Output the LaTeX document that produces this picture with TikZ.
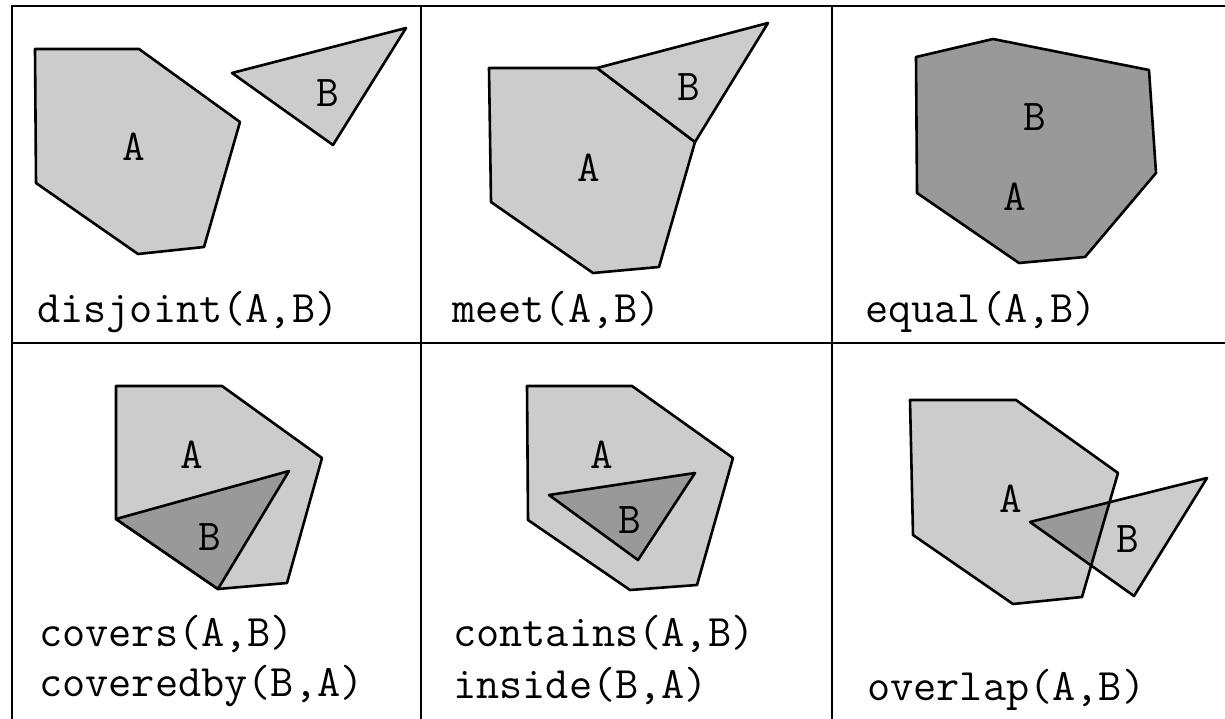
\documentclass[tikz,border=0pt]{standalone}
\usepackage{fontspec}
\definecolor{reglight}{gray}{0.8}
\definecolor{regdark}{gray}{0.6}
\begin{document}
\begin{tikzpicture}[x=1pt,y=-1pt,
  frame/.style={line width=2.6pt},
  region/.style={draw=black,line width=2.6pt,line join=round},
  light/.style={region,fill=reglight},
  dark/.style={region,fill=regdark},
  lbl/.style={font=\fontsize{44}{50}\selectfont\ttfamily,inner sep=0pt},
  captext/.style={font=\fontsize{45}{50}\selectfont\ttfamily,inner sep=0pt,anchor=base west}]
\useasboundingbox (0,0) rectangle (1225,719);
\fill[white] (0,0) rectangle (1225,719);

% grid
\draw[frame] (11,6) -- (1225,6);
\draw[frame] (12,6) -- (12,719);
\draw[frame] (421,6) -- (421,719);
\draw[frame] (832,6) -- (832,719);
\draw[frame] (12,343) -- (1225,343);

% ---- disjoint
\draw[light] (35,49) -- (139,49) -- (240,122) -- (204,247) -- (138,254) -- (36,183) -- cycle;
\draw[light] (232,73) -- (406,28) -- (333,145) -- cycle;
\node[lbl] (a1) at (134,147) {A};
\node[lbl] (b1) at (328,93) {B};
\node[captext] (c1) at (37,322) {disjoint(A,B)};

% ---- meet
\draw[light] (489,68) -- (597,68) -- (695,142) -- (659,267) -- (593,273) -- (491,202) -- cycle;
\draw[light] (597,68) -- (768,23) -- (695,142) -- cycle;
\node[lbl] (a2) at (589,168) {A};
\node[lbl] (b2) at (689,87) {B};
\node[captext] (c2) at (452,322) {meet(A,B)};

% ---- equal
\draw[dark] (916,57) -- (993,39) -- (1149,70) -- (1156,173) -- (1085,257) -- (1019,263) -- (917,193) -- cycle;
\node[lbl] (b3) at (1035,117) {B};
\node[lbl] (a3) at (1015,197) {A};
\node[captext] (c3) at (865,322) {equal(A,B)};

% ---- covers
\draw[light] (116,386) -- (222,386) -- (322,458) -- (287,583) -- (218,589) -- (116,519) -- cycle;
\draw[dark] (116,519) -- (289,471) -- (218,589) -- cycle;
\node[lbl] (a4) at (192,455) {A};
\node[lbl] (b4) at (210,537) {B};
\node[captext] (c4) at (39,646) {covers(A,B)};
\node[captext] (d4) at (39,696) {coveredby(B,A)};

% ---- contains
\draw[light] (527,386) -- (632,386) -- (733,458) -- (697,585) -- (630,590) -- (528,520) -- cycle;
\draw[dark] (549,495) -- (695,473) -- (638,560) -- cycle;
\node[lbl] (a5) at (602,455) {A};
\node[lbl] (b5) at (630,520) {B};
\node[captext] (c5) at (453,646) {contains(A,B)};
\node[captext] (d5) at (453,698) {inside(B,A)};

% ---- overlap
\fill[reglight] (910,400) -- (1016,400) -- (1118,473) -- (1082,597) -- (1013,604) -- (913,535) -- cycle;
\fill[reglight] (1030,522) -- (1207,478) -- (1134,596) -- cycle;
\begin{scope}
  \clip (910,400) -- (1016,400) -- (1118,473) -- (1082,597) -- (1013,604) -- (913,535) -- cycle;
  \fill[regdark] (1030,522) -- (1207,478) -- (1134,596) -- cycle;
\end{scope}
\draw[region] (910,400) -- (1016,400) -- (1118,473) -- (1082,597) -- (1013,604) -- (913,535) -- cycle;
\draw[region] (1030,522) -- (1207,478) -- (1134,596) -- cycle;
\node[lbl] (a6) at (1011,499) {A};
\node[lbl] (b6) at (1128,539) {B};
\node[captext] (c6) at (867,700) {overlap(A,B)};
\end{tikzpicture}
\end{document}
